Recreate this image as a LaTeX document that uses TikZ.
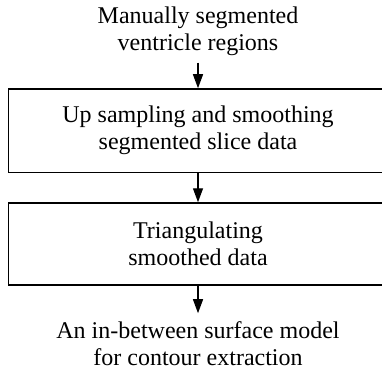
\documentclass[tikz,border=0pt]{standalone}
\usepackage{fontspec}
\setmainfont{Liberation Serif}
\usetikzlibrary{arrows.meta}
\begin{document}
\begin{tikzpicture}[x=1pt, y=1pt, font=\fontsize{24}{27}\selectfont,
    txt/.style = {align=center, inner sep=0pt},
    stage/.style = {draw, line width=1.5pt, align=center, minimum width=379pt, minimum height=83.5pt, inner sep=0pt},
    flow/.style = {-{Triangle[width=10pt, length=14pt]}, line width=1.3pt}]
\useasboundingbox (0,0) rectangle (382,370);
\node[txt] (input) at (198,339) {Manually segmented\\ventricle regions};
\node[stage] (upsample) at (198,239.25) {Up sampling and smoothing\\segmented slice data};
\node[stage, minimum height=82pt] (triang) at (198,126) {Triangulating\\smoothed data};
\node[txt] (output) at (198,26.5) {An in-between surface model\\for contour extraction};
\draw[flow, shorten <=7pt] (input) -- (upsample);
\draw[flow] (upsample) -- (triang);
\draw[flow, shorten >=8pt] (triang) -- (output);
\end{tikzpicture}
\end{document}
